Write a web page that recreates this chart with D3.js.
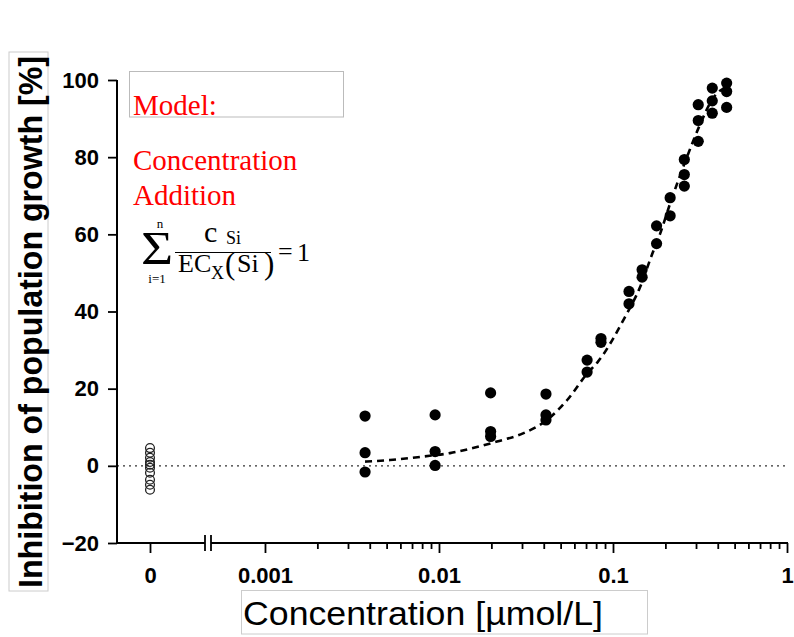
<!DOCTYPE html>
<html>
<head>
<meta charset="utf-8">
<script src="https://cdn.jsdelivr.net/npm/d3@7/dist/d3.min.js"></script>
<style>
  html, body { margin: 0; padding: 0; background: #fff; }
  svg { display: block; }
</style>
</head>
<body>
<svg id="chart" width="794" height="637"></svg>
<script>
// ---------------- data ----------------
const zeroControlValues = [4.6, 3.4, 2.1, 1.0, 0.3, -0.5, -1.8, -3.6, -4.9, -6.2];
const concentrations = [0.00376, 0.0095, 0.0198, 0.0412, 0.071, 0.0853, 0.1236, 0.147, 0.178, 0.213, 0.257, 0.309, 0.372, 0.45];
const inhibition = [
  [12.9, 3.4, -1.6],
  [13.2, 3.7, 0.1],
  [18.9, 8.9, 7.6],
  [18.6, 13.2, 11.9],
  [27.4, 24.3],
  [33.0, 32.0],
  [45.2, 42.0],
  [50.8, 48.9],
  [62.2, 57.6],
  [69.5, 64.8],
  [79.4, 75.5, 72.5],
  [93.6, 89.5, 84.1],
  [97.9, 94.6, 91.4],
  [99.2, 97.0, 92.9]
];
const modelConc = [0.00376, 0.00523, 0.00809, 0.01157, 0.01567, 0.02155, 0.0304, 0.0418, 0.0544, 0.071, 0.082, 0.117, 0.143, 0.168, 0.186, 0.213, 0.266, 0.316, 0.376, 0.452];
const modelValues = [1.1, 1.5, 2.4, 3.3, 4.6, 6.3, 8.4, 11.9, 17, 23.9, 27, 38.5, 46.3, 54.9, 60, 68, 80, 88.4, 95.3, 98.3];
const xMajorTicks = [0.001, 0.01, 0.1, 1];
const xMajorLabels = ["0.001", "0.01", "0.1", "1"];
const yTicks = [-20, 0, 20, 40, 60, 80, 100];
const zeroLabel = ["0"];

// ---------------- layout ----------------
const svg = d3.select("#chart");
const axisX0 = 117, axisY0 = 543, xEnd = 787, yTop = 80;
const breakL = 205, breakR = 211;

const x = d3.scaleLog().domain([0.0005, 1]).range([212.6, xEnd]);
const xZero = d3.scalePoint().domain(zeroLabel).range([axisX0, 183]).padding(0.5);
const y = d3.scaleLinear().domain([-20, 100]).range([axisY0, yTop]);

const tickFont = "'Liberation Sans', Arial, sans-serif";

// zero reference line (dotted)
svg.append("line")
  .attr("x1", axisX0).attr("x2", xEnd)
  .attr("y1", y(0)).attr("y2", y(0))
  .attr("stroke", "#333").attr("stroke-width", 1.1)
  .attr("stroke-dasharray", "2,4");

// ---------------- axes ----------------
const yAxis = svg.append("g")
  .attr("transform", `translate(${axisX0},0)`)
  .call(d3.axisLeft(y).tickValues(yTicks).tickSize(9).tickPadding(9).tickFormat(d3.format("d")));
yAxis.select(".domain").remove();
yAxis.append("line").attr("x1", 0).attr("x2", 0).attr("y1", yTop).attr("y2", axisY0)
  .attr("stroke", "#000").attr("stroke-width", 2);

const xZeroAxis = svg.append("g")
  .attr("transform", `translate(0,${axisY0})`)
  .call(d3.axisBottom(xZero).tickSize(10).tickPadding(14));
xZeroAxis.select(".domain").remove();

const xAxis = svg.append("g")
  .attr("transform", `translate(0,${axisY0})`)
  .call(d3.axisBottom(x).tickValues(xMajorTicks).tickSize(10).tickPadding(14)
    .tickFormat((d, i) => xMajorLabels[i]));
xAxis.select(".domain").remove();

const minorTicks = [];
[0.001, 0.01, 0.1].forEach(dec => { for (let k = 2; k <= 9; k++) minorTicks.push(+(dec * k).toPrecision(3)); });
const xMinor = svg.append("g")
  .attr("transform", `translate(0,${axisY0})`)
  .call(d3.axisBottom(x).tickValues(minorTicks).tickSize(6).tickFormat(""));
xMinor.select(".domain").remove();

svg.append("line").attr("x1", axisX0).attr("x2", breakL).attr("y1", axisY0).attr("y2", axisY0)
  .attr("stroke", "#000").attr("stroke-width", 2);
svg.append("line").attr("x1", breakR).attr("x2", xEnd + 1).attr("y1", axisY0).attr("y2", axisY0)
  .attr("stroke", "#000").attr("stroke-width", 2);
[breakL, breakR].forEach(bx => {
  svg.append("line").attr("x1", bx).attr("x2", bx).attr("y1", axisY0 - 8).attr("y2", axisY0 + 8)
    .attr("stroke", "#000").attr("stroke-width", 1.8);
});

svg.selectAll(".tick line").attr("stroke", "#000").attr("stroke-width", 1.8);
svg.selectAll(".tick text")
  .attr("font-family", tickFont).attr("font-weight", "bold").attr("font-size", 22).attr("fill", "#000");

// ---------------- model curve ----------------
const modelPts = modelConc.map((c, i) => [x(c), y(modelValues[i])]);
svg.append("path")
  .attr("d", d3.line().curve(d3.curveMonotoneX)(modelPts))
  .attr("fill", "none").attr("stroke", "#000").attr("stroke-width", 2.6)
  .attr("stroke-dasharray", "7,5");

// ---------------- data points ----------------
const pts = [];
concentrations.forEach((c, i) => inhibition[i].forEach(v => pts.push({ c, v })));
svg.append("g").selectAll("circle").data(pts).join("circle")
  .attr("cx", d => x(d.c)).attr("cy", d => y(d.v)).attr("r", 5.6)
  .attr("fill", "#000");

svg.append("g").selectAll("circle").data(zeroControlValues).join("circle")
  .attr("cx", xZero("0")).attr("cy", d => y(d)).attr("r", 4.4)
  .attr("fill", "none").attr("stroke", "#222").attr("stroke-width", 1.3);

// ---------------- axis titles ----------------
svg.append("rect").attr("x", 9).attr("y", 52).attr("width", 39).attr("height", 539)
  .attr("fill", "none").attr("stroke", "#ccc").attr("stroke-width", 1);
svg.append("text")
  .attr("transform", "translate(42,588) rotate(-90)")
  .attr("font-family", tickFont).attr("font-weight", "bold").attr("font-size", 34)
  .attr("textLength", 532).attr("lengthAdjust", "spacingAndGlyphs")
  .text("Inhibition of population growth [%]");

svg.append("rect").attr("x", 241.5).attr("y", 590.5).attr("width", 406).attr("height", 43.5)
  .attr("fill", "none").attr("stroke", "#ccc").attr("stroke-width", 1);
svg.append("text")
  .attr("x", 243).attr("y", 625)
  .attr("font-family", tickFont).attr("font-size", 33)
  .attr("textLength", 360).attr("lengthAdjust", "spacingAndGlyphs")
  .text("Concentration [\u00b5mol/L]");

// ---------------- model annotation ----------------
const serif = "'Liberation Serif', 'Times New Roman', serif";
svg.append("rect").attr("x", 129.5).attr("y", 71.5).attr("width", 214).attr("height", 45.5)
  .attr("fill", "none").attr("stroke", "#bbb").attr("stroke-width", 1);
const red = "#ff0000";
svg.append("text").attr("x", 133).attr("y", 115).attr("font-family", serif).attr("font-size", 29)
  .attr("fill", red).text("Model:");
svg.append("text").attr("x", 133).attr("y", 170).attr("font-family", serif).attr("font-size", 29)
  .attr("fill", red).text("Concentration");
svg.append("text").attr("x", 133).attr("y", 205).attr("font-family", serif).attr("font-size", 29)
  .attr("fill", red).text("Addition");

const f = svg.append("g").attr("font-family", serif).attr("fill", "#000");
f.append("text").attr("transform", "translate(157,264) scale(1.2,1)").attr("text-anchor", "middle")
  .attr("font-size", 46).text("\u03a3");
f.append("text").attr("x", 160).attr("y", 228).attr("text-anchor", "middle").attr("font-size", 13).text("n");
f.append("text").attr("x", 157).attr("y", 283).attr("text-anchor", "middle").attr("font-size", 13).text("i=1");
f.append("text").attr("x", 204).attr("y", 242).attr("font-size", 30).text("c");
f.append("text").attr("x", 226).attr("y", 244).attr("font-size", 18).text("Si");
f.append("line").attr("x1", 175).attr("x2", 271).attr("y1", 252.5).attr("y2", 252.5)
  .attr("stroke", "#000").attr("stroke-width", 1.2);
f.append("text").attr("x", 178).attr("y", 272).attr("font-size", 26).text("EC");
f.append("text").attr("x", 211).attr("y", 279).attr("font-size", 18).text("X");
f.append("text").attr("x", 225).attr("y", 274).attr("font-size", 31).text("(");
f.append("text").attr("x", 237).attr("y", 272).attr("font-size", 26).text("Si");
f.append("text").attr("x", 264).attr("y", 274).attr("font-size", 31).text(")");
f.append("text").attr("x", 278).attr("y", 260).attr("font-size", 26).text("=");
f.append("text").attr("x", 297).attr("y", 261).attr("font-size", 26).text("1");
</script>
</body>
</html>
